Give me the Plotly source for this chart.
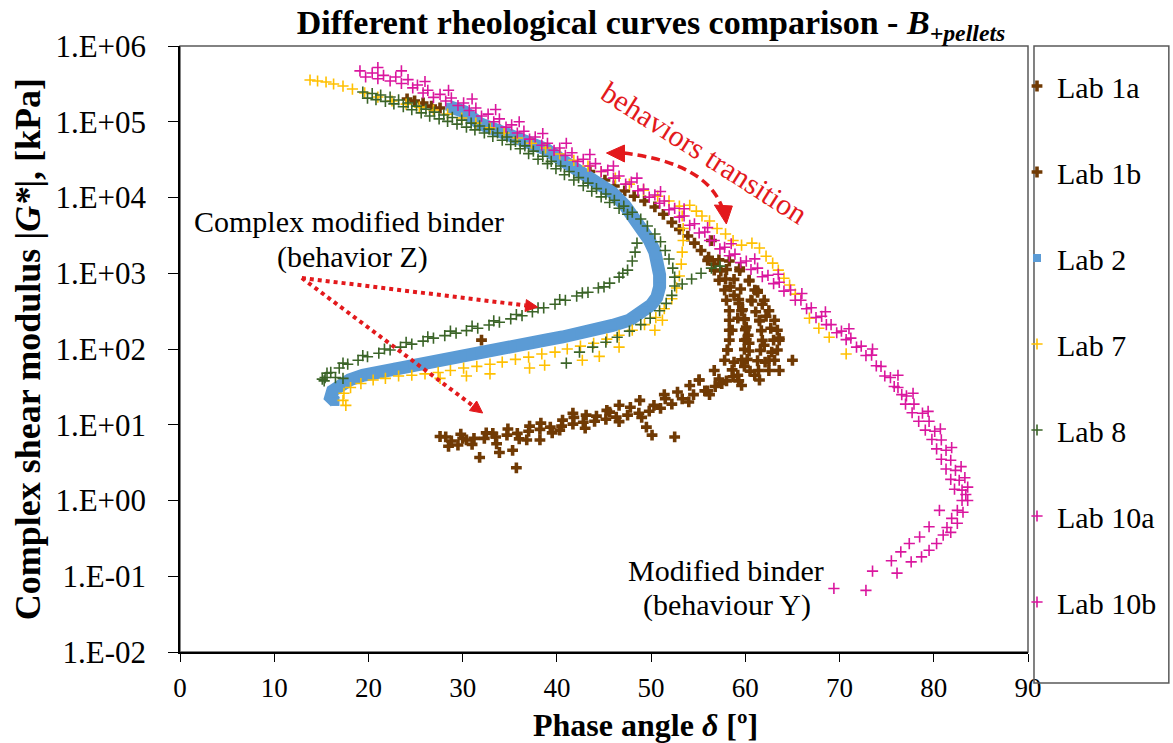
import plotly.graph_objects as go

# ---------------- data (phase angle [deg], |G*| [kPa]) ----------------
lab1a_delta = [24.1, 24.9, 25.8, 26.7, 27.6, 30.7, 33.9, 37.1, 40.3, 43.5, 45.1, 46.1, 47.2, 48.2, 49.3,
               50.4, 51.3, 52.2, 53.0, 53.9, 54.6, 55.3, 56.1, 56.7, 57.4, 57.9, 58.4, 58.8, 59.3, 59.6,
               59.9, 60.1, 60.3, 60.4, 60.4, 60.2, 59.9, 56.4,
               56.0, 57.2, 58.3, 56.7, 58.0, 59.4, 57.2, 58.8, 60.4, 57.8, 59.5, 61.3,
               58.0, 59.3, 60.7, 62.0, 58.3, 59.7, 61.1, 62.5, 58.3, 59.9, 61.5, 63.1]
lab1a_G = [2.0e5, 1.88e5, 1.77e5, 1.61e5, 1.52e5, 1.12e5, 7.8e4, 5.2e4, 3.4e4, 2.2e4, 1.7e4, 1.42e4, 1.22e4,
           1.04e4, 9.0e3, 7.5e3, 6.0e3, 4.7e3, 3.8e3, 3.1e3, 2.5e3, 2.0e3, 1.63e3, 1.32e3, 1.07e3, 8.4e2,
           6.6e2, 5.1e2, 4.0e2, 3.2e2, 2.5e2, 1.95e2, 1.52e2, 1.19e2, 94, 73, 59, 2.7e3,
           1.48e3, 1.5e3, 1.45e3, 1.1e3, 1.12e3, 1.08e3, 8.1e2, 8.3e2, 7.9e2, 6.0e2, 6.2e2, 5.9e2,
           4.4e2, 4.5e2, 4.3e2, 4.4e2, 3.2e2, 3.3e2, 3.1e2, 3.2e2, 2.4e2, 2.45e2, 2.35e2, 2.4e2]

lab1b_delta = [59.4, 60.4, 61.3, 61.8, 62.2, 62.7, 63.0, 62.8, 62.1, 61.4, 63.6, 65.0, 63.6, 58.6, 58.1, 58.8,
               61.0, 61.5, 59.9, 62.0, 59.2, 60.6, 62.5, 61.0, 59.6,
               58.3, 60.0, 61.7, 63.4, 58.3, 60.1, 61.8, 63.6, 58.1, 59.9, 61.6, 63.4,
               57.8, 59.6, 61.3, 63.1, 56.7, 58.6, 60.5, 62.5, 55.1, 57.2, 59.3, 61.5,
               59.2, 58.0, 56.8, 55.7, 54.5, 53.3, 52.2, 51.0, 49.8, 48.7, 47.5, 46.3, 45.2, 44.0, 42.8, 41.7,
               40.5, 39.3, 38.2, 37.0, 35.8, 34.7, 33.5, 32.3, 31.2, 30.0, 28.8, 28.2,
               54.0, 52.8, 51.5, 50.3, 49.0, 47.8, 46.6, 45.3, 44.2, 43.0, 41.8, 40.6, 39.5, 38.3, 37.1, 36.0,
               34.8, 33.6, 32.5, 31.0, 29.8, 28.5, 27.6, 56.0, 57.5, 58.7,
               31.8, 35.7, 35.3, 33.9, 33.2, 38.2, 36.8, 40.3, 41.7, 45.6, 49.5, 50.1, 52.5, 46.6, 48.8, 51.4,
               54.1, 55.1, 56.2, 32.0, 43.1, 30.4, 29.5]
lab1b_G = [1.17e3, 8.1e2, 5.6e2, 3.9e2, 2.7e2, 1.88e2, 1.31e2, 91, 67, 52, 1.39e2, 71, 52, 1.77e2, 97, 67,
           6.0e2, 2.4e2, 1.31e2, 1.12e2, 2.55e2, 4.4e2, 71, 45, 33,
           1.77e2, 1.8e2, 1.75e2, 1.77e2, 1.31e2, 1.33e2, 1.3e2, 1.31e2, 97, 99, 96, 97,
           71, 72, 70, 71, 52, 53, 51, 52, 39, 40, 38, 39,
           45, 38, 32, 28, 25, 22, 18.7, 16.5, 15.1, 14.2, 13.4, 12.6, 11.8, 11.1, 10.8, 10.2,
           9.6, 9.3, 8.7, 8.2, 7.7, 7.3, 6.9, 6.6, 6.6, 6.6, 6.1, 6.9,
           20, 27, 22, 18, 12.5, 17, 11, 15.5, 13, 9.0, 12.5, 11.5, 7.8, 10.5, 9.6, 6.5,
           8.8, 5.6, 7.8, 5.5, 7.5, 5.2, 7.0, 28, 35, 43,
           3.7, 2.7, 4.6, 4.3, 7.7, 6.3, 6.3, 8.5, 14.2, 14.7, 9.3, 7.3, 6.9, 18.1, 21, 25,
           33, 39, 25, 1.31e2, 13.4, 6.3, 5.4]

lab2_delta = [28.6, 30.2, 31.8, 33.6, 35.3, 37.1, 38.9, 40.6, 42.4, 44.2, 45.9, 47.2, 48.4, 49.3, 49.8,
              50.4, 50.7, 50.9, 50.9, 50.6, 50.0, 49.3, 47.7, 45.9, 44.2, 42.4, 40.6, 38.9, 37.1, 35.3,
              33.6, 31.8, 30.0, 28.3, 26.5, 24.7, 23.0, 21.2, 19.4, 18.0, 17.0, 16.2, 16.0, 16.5]
lab2_G = [1.58e5, 1.35e5, 9.5e4, 7.7e4, 6.3e4, 5.2e4, 4.3e4, 3.1e4, 2.3e4, 1.65e4, 1.15e4, 7.9e3, 5.0e3,
          3.7e3, 2.75e3, 1.9e3, 1.36e3, 9.5e2, 6.6e2, 4.8e2, 3.8e2, 3.2e2, 2.4e2, 2.05e2, 1.78e2, 1.58e2,
          1.44e2, 1.32e2, 1.2e2, 1.1e2, 1.0e2, 91, 83, 76, 69, 63, 58, 51, 45, 39, 33, 28, 23, 20]

lab7_delta = [13.8, 14.6, 15.5, 16.3, 17.3, 18.3, 19.6, 21.0, 22.5, 24.0, 25.4, 26.9, 28.4, 29.9, 31.4,
              32.9, 34.4, 35.8, 37.3, 38.8, 40.3, 41.8, 43.3, 44.7, 46.2, 47.7, 49.2, 50.7, 51.9, 53.0,
              53.3, 53.4, 53.4, 53.3, 53.2, 53.0, 52.7, 52.2, 51.4, 50.5, 49.3, 48.0, 46.6, 45.3, 43.9,
              42.5, 41.1, 39.8, 38.4, 37.0, 35.6, 34.2, 32.9, 31.5, 30.1, 28.7, 27.4, 26.0, 24.6, 23.2,
              21.8, 20.5, 19.2, 18.1, 17.4, 17.3, 17.6,
              32.9, 37.1, 42.7, 44.5, 38.7, 27.6, 30.4, 46.6, 50.4, 51.2,
              54.1, 54.8, 55.4, 56.2, 57.0, 57.9, 58.7, 59.6, 60.7, 61.5, 62.2, 62.9, 63.5, 64.1, 64.7,
              65.3, 66.8, 67.8, 68.9, 70.7]
lab7_G = [3.56e5, 3.45e5, 3.35e5, 3.15e5, 2.96e5, 2.7e5, 2.4e5, 2.12e5, 1.88e5, 1.71e5, 1.56e5, 1.43e5,
          1.26e5, 1.12e5, 9.6e4, 8.3e4, 7.1e4, 6.1e4, 5.2e4, 4.5e4, 3.75e4, 3.1e4, 2.6e4, 2.2e4, 1.8e4,
          1.5e4, 1.25e4, 1.04e4, 9.0e3, 7.7e3,
          5.7e3, 3.9e3, 2.7e3, 1.9e3, 1.32e3, 9.2e2, 6.4e2, 4.6e2, 3.4e2, 2.6e2, 2.1e2, 1.77e2, 1.52e2,
          1.35e2, 1.19e2, 1.09e2, 1.0e2, 91, 86, 78, 73, 67, 63, 59, 56, 52, 49, 47, 45, 44,
          41, 39, 35, 31, 26, 21, 18,
          47, 56, 71, 80, 61, 41, 44, 1.06e2, 1.77e2, 2.4e2,
          7.9e3, 6.6e3, 5.7e3, 4.9e3, 3.9e3, 3.3e3, 2.7e3, 2.35e3, 2.5e3, 2.15e3, 1.68e3, 1.36e3, 1.1e3,
          8.6e2, 7.0e2, 5.3e2, 2.55e2, 1.88e2, 1.43e2, 86]

lab8_delta = [19.4, 20.4, 21.3, 22.3, 23.2, 24.2, 25.1, 26.1, 27.0, 28.0, 28.9, 29.9, 30.9, 31.8, 32.8,
              33.7, 34.7, 35.6, 36.6, 37.5, 38.5, 39.4, 40.4, 41.3, 42.3, 43.3, 44.2, 45.2, 46.1, 47.1,
              48.0, 48.9, 49.6, 50.4, 51.0, 51.5, 51.9, 52.3, 52.5, 52.5, 52.2, 51.6, 50.9, 49.9, 48.9,
              47.7, 46.4, 45.2, 43.8,
              19.9, 20.8, 21.8, 22.7, 23.7, 24.6, 25.6, 26.5, 27.5, 28.4, 29.4, 30.4, 31.3, 32.3, 33.2,
              34.2, 35.1, 36.1, 37.0, 38.0, 39.0, 39.9, 40.8, 41.8, 42.8, 43.7, 44.7, 45.6, 46.6, 47.5,
              42.4, 41.0, 17.3,
              53.3, 54.3, 55.3, 56.4, 57.3,
              48.5, 48.3, 48.0, 47.5, 46.6, 45.6, 44.4, 43.3, 42.1, 40.9, 39.8, 38.6, 37.4, 36.3, 35.1,
              33.9, 32.8, 31.6, 30.4, 29.3, 28.1, 26.9, 25.8, 24.6, 23.4, 22.3, 21.1, 19.9, 18.9, 17.8,
              16.9, 16.0, 15.4, 15.3,
              47.0, 45.0, 42.7, 40.3, 38.0, 35.7, 33.3, 31.0, 28.7, 26.3, 24.0, 21.7, 19.4, 17.3, 15.6,
              15.1, 16.5]
lab8_G = [2.47e5, 2.36e5, 2.25e5, 2.12e5, 1.94e5, 1.77e5, 1.61e5, 1.47e5, 1.34e5, 1.23e5, 1.14e5, 1.05e5,
          9.6e4, 8.8e4, 8.0e4, 7.1e4, 6.3e4, 5.5e4, 4.8e4, 4.1e4, 3.5e4, 3.0e4, 2.6e4, 2.2e4, 1.83e4,
          1.55e4, 1.31e4, 1.11e4, 9.2e3, 7.7e3, 6.4e3, 5.2e3, 4.2e3, 3.3e3, 2.6e3, 2.0e3, 1.54e3, 1.17e3,
          8.9e2, 6.8e2, 5.1e2, 4.0e2, 3.2e2, 2.55e2, 2.1e2, 1.72e2, 1.43e2, 1.23e2, 1.06e2,
          2.05e5, 1.96e5, 1.86e5, 1.72e5, 1.58e5, 1.44e5, 1.31e5, 1.19e5, 1.09e5, 1.01e5, 9.3e4, 8.5e4,
          7.8e4, 7.1e4, 6.4e4, 5.7e4, 5.0e4, 4.4e4, 3.8e4, 3.2e4, 2.8e4, 2.4e4, 2.0e4, 1.7e4, 1.43e4,
          1.21e4, 1.02e4, 8.6e3, 7.2e3, 6.0e3,
          91, 65, 41,
          7.2e2, 8.4e2, 1.0e3, 1.17e3, 1.24e3,
          2.5e3, 1.9e3, 1.45e3, 1.1e3, 8.9e2, 7.4e2, 6.4e2, 5.6e2, 5.0e2, 4.4e2, 3.9e2, 3.5e2, 3.1e2,
          2.75e2, 2.5e2, 2.26e2, 2.07e2, 1.88e2, 1.75e2, 1.62e2, 1.5e2, 1.39e2, 1.27e2, 1.16e2, 1.06e2,
          97, 88, 79, 71, 63, 56, 49, 42, 38,
          1.0e3, 6.6e2, 5.5e2, 4.5e2, 3.5e2, 2.85e2, 2.35e2, 2.0e2, 1.72e2, 1.45e2, 1.22e2, 1.0e2, 82,
          65, 48, 40, 42]

lab10a_delta = [19.1, 20.4, 21.6, 22.9, 24.2, 25.2, 26.3, 27.6, 28.8, 30.1, 31.4, 32.7, 33.9, 35.2, 36.5,
                37.7, 39.0, 40.3, 41.6, 42.8, 44.1, 45.4, 46.6, 47.9, 49.2, 50.4, 51.4, 52.5, 53.5, 54.6,
                55.7, 56.7, 57.8, 58.9, 60.1, 61.3, 62.4, 63.6, 64.8, 65.9, 67.0, 68.1, 69.1, 70.2, 71.2,
                72.3, 73.4, 74.4, 75.4, 76.2, 77.1, 77.9, 78.8, 79.5, 80.1, 80.8, 81.3, 81.8, 82.3, 82.7,
                83.0, 83.0, 82.5, 81.9, 81.4, 81.0, 80.3, 79.5, 78.7, 83.4, 83.3,
                21.0, 23.5, 26.0, 28.5, 31.0, 33.5, 36.0, 38.5, 41.0, 43.5, 46.0, 48.5, 51.0, 53.5, 56.0,
                58.5, 61.0, 63.5, 66.0, 68.5, 71.0, 73.5,
                76.2, 77.8, 79.4, 80.7, 81.9, 82.9, 83.6, 83.6, 83.1, 82.5, 81.8]
lab10a_G = [4.7e5, 4.4e5, 4.1e5, 3.9e5, 3.6e5, 3.05e5, 2.6e5, 2.3e5, 2.06e5, 1.77e5, 1.52e5, 1.26e5, 1.09e5,
            9.1e4, 7.5e4, 6.3e4, 5.2e4, 4.5e4, 3.9e4, 3.2e4, 2.8e4, 2.3e4, 1.92e4, 1.6e4, 1.29e4, 1.08e4,
            9.0e3, 7.2e3, 5.7e3, 4.5e3, 3.5e3, 2.7e3, 2.2e3, 1.79e3, 1.45e3, 1.17e3, 9.4e2, 7.6e2, 6.0e2,
            4.4e2, 3.5e2, 2.7e2, 2.1e2, 1.72e2, 1.39e2, 1.09e2, 83, 59, 42, 31, 24, 18.7, 14.2, 11.1, 8.2,
            6.3, 4.6, 3.4, 2.5, 1.85, 1.37, 1.0, 0.74, 0.58, 0.44, 0.35, 0.27, 0.22, 0.18, 1.2, 2.0,
            5.2e5, 4.7e5, 3.4e5, 2.6e5, 2.0e5, 1.45e5, 1.0e5, 7.0e4, 5.2e4, 3.7e4, 2.6e4, 1.8e4, 1.2e4,
            7.1e3, 4.0e3, 2.45e3, 1.55e3, 9.7e2, 5.4e2, 3.1e2, 1.85e2, 1.0e2,
            45, 26, 15, 8.8, 5.0, 2.8, 1.5, 1.0, 0.7, 0.5, 0.38]

lab10b_delta = [19.7, 21.0, 22.3, 23.5, 24.7, 25.8, 26.9, 28.2, 29.5, 30.7, 32.0, 33.3, 34.6, 35.8, 37.1,
                38.4, 39.7, 40.9, 42.2, 43.5, 44.7, 46.0, 47.3, 48.6, 49.8, 50.9, 51.9, 53.0, 54.1, 55.1,
                56.2, 57.3, 58.3, 59.5, 60.6, 61.8, 63.0, 64.1, 65.3, 66.5, 67.5, 68.6, 69.7, 70.7, 71.8,
                72.8, 73.9, 74.8, 75.8, 76.6, 77.0, 77.7, 78.4, 79.1, 79.8, 80.3, 80.8, 81.3, 81.8, 82.2,
                80.6, 79.5, 78.5, 77.4, 76.5, 75.5, 77.6, 76.1, 73.5, 72.8, 69.4]
lab10b_G = [3.9e5, 3.7e5, 3.45e5, 3.2e5, 2.8e5, 2.4e5, 2.1e5, 1.88e5, 1.64e5, 1.41e5, 1.19e5, 1.0e5, 8.5e4,
            7.1e4, 5.9e4, 4.9e4, 4.2e4, 3.6e4, 3.0e4, 2.6e4, 2.2e4, 1.8e4, 1.5e4, 1.23e4, 1.01e4, 8.4e3,
            6.9e3, 5.5e3, 4.3e3, 3.4e3, 2.7e3, 2.1e3, 1.7e3, 1.38e3, 1.12e3, 9.0e2, 7.3e2, 5.8e2, 4.4e2,
            3.4e2, 2.6e2, 2.1e2, 1.64e2, 1.33e2, 1.06e2, 82, 60, 44, 32, 25, 18.7, 14.4, 11.1, 8.5, 6.4,
            4.8, 3.5, 2.6, 1.9, 1.41,
            0.74, 0.45, 0.33, 0.27, 0.21, 0.16, 0.155, 0.11, 0.117, 0.065, 0.069]

x_tickvals = [0, 10, 20, 30, 40, 50, 60, 70, 80, 90]
y_tickvals = [1e-2, 1e-1, 1e0, 1e1, 1e2, 1e3, 1e4, 1e5, 1e6]
y_ticktext = ["1.E-02", "1.E-01", "1.E+00", "1.E+01", "1.E+02", "1.E+03", "1.E+04", "1.E+05", "1.E+06"]

# ---------------- styling ----------------
FONT = "'Liberation Serif', 'Times New Roman', serif"
BROWN = "#703A04"
BLUE = "#5B9BD5"
YELLOW = "#FFC000"
GREEN = "#3B6428"
MAGENTA = "#DA169E"
RED = "#E3191C"

W, H = 1173, 743
L, R, T, B = 180, 1029, 46, 652


def PX(px):
    return (px - L) / (R - L)


def PY(py):
    return (B - py) / (B - T)


fig = go.Figure()


def thin(name, xs, ys, color, size=8, group=None):
    fig.add_trace(go.Scatter(
        x=xs, y=ys, mode="markers", name=name, legendgroup=group or name,
        marker=dict(symbol="cross-thin", size=size, color=color,
                    line=dict(color=color, width=1.6))))


fig.add_trace(go.Scatter(x=lab1a_delta, y=lab1a_G, mode="markers", name="Lab 1a", legendgroup="1a",
                         marker=dict(symbol="cross", size=9, color=BROWN, line=dict(width=0))))
fig.add_trace(go.Scatter(x=lab1b_delta, y=lab1b_G, mode="markers", name="Lab 1b", legendgroup="1b",
                         marker=dict(symbol="cross", size=9, color=BROWN, line=dict(width=0))))
fig.add_trace(go.Scatter(x=lab2_delta, y=lab2_G, mode="lines", showlegend=False,
                         line=dict(color=BLUE, width=13), hoverinfo="skip"))
fig.add_trace(go.Scatter(x=lab2_delta, y=lab2_G, mode="markers", name="Lab 2", legendgroup="2",
                         marker=dict(symbol="square", size=8, color=BLUE, line=dict(width=0))))
thin("Lab 7", lab7_delta, lab7_G, YELLOW, group="7")
thin("Lab 8", lab8_delta, lab8_G, GREEN, group="8")
thin("Lab 10a", lab10a_delta, lab10a_G, MAGENTA, group="10a")
thin("Lab 10b", lab10b_delta, lab10b_G, MAGENTA, group="10b")

shapes = []
shapes.append(dict(type="rect", xref="paper", yref="paper", x0=0, x1=1, y0=0, y1=1,
                   line=dict(color="#595959", width=1.5), layer="below"))
shapes.append(dict(type="rect", xref="paper", yref="paper", x0=PX(1035), x1=PX(1170),
                   y0=PY(683), y1=PY(46), line=dict(color="#595959", width=1.5)))
p0, c, p2 = (624, 153), (707, 163), (723, 208)
shapes.append(dict(type="path", xref="paper", yref="paper",
                   path=f"M {PX(p0[0])},{PY(p0[1])} Q {PX(c[0])},{PY(c[1])} {PX(p2[0])},{PY(p2[1])}",
                   line=dict(color=RED, width=3.5, dash="9px,5px")))
for tri in [[(607, 153), (625, 145), (625, 162)], [(727, 224), (715, 205), (733, 206)]]:
    path = "M " + " L ".join(f"{PX(a)},{PY(b)}" for a, b in tri) + " Z"
    shapes.append(dict(type="path", xref="paper", yref="paper", path=path,
                       fillcolor=RED, line=dict(color=RED, width=1)))
for (x1, y1), tip, c1, c2 in [((526.1, 305.5), (538, 307), (525.4, 311.5), (526.8, 299.6)),
                               ((473.4, 405.8), (483, 413), (469.8, 410.6), (477.0, 401.0))]:
    shapes.append(dict(type="line", xref="paper", yref="paper", x0=PX(302), y0=PY(278),
                       x1=PX(x1), y1=PY(y1), line=dict(color=RED, width=4, dash="dot")))
    path = f"M {PX(tip[0])},{PY(tip[1])} L {PX(c1[0])},{PY(c1[1])} L {PX(c2[0])},{PY(c2[1])} Z"
    shapes.append(dict(type="path", xref="paper", yref="paper", path=path,
                       fillcolor=RED, line=dict(color=RED, width=1)))

annotations = []


def note(text, px, py, size=30, color="black", angle=0):
    annotations.append(dict(text=text, xref="paper", yref="paper", x=PX(px), y=PY(py),
                            xanchor="center", yanchor="middle", showarrow=False, textangle=angle,
                            font=dict(family=FONT, size=size, color=color)))


note("behaviors transition", 705, 152, size=30, color=RED, angle=32.5)
note("Complex modified binder", 349, 222)
note("(behavior Z)", 353, 257)
note("Modified binder", 727, 570)
note("(behaviour Y)", 728, 605)
note("<b>Complex shear modulus |<i>G*</i>|, [kPa]</b>", 28, 349, size=36, angle=-90)
note("<b>Phase angle <i>δ</i> [º]</b>", 646, 725, size=32)

fig.update_layout(
    width=W, height=H,
    margin=dict(l=L, r=W - R, t=T, b=H - B, pad=0),
    paper_bgcolor="white", plot_bgcolor="white",
    font=dict(family=FONT, color="black"),
    title=dict(text="<b>Different rheological curves comparison - <i>B</i><sub><i>+pellets</i></sub></b>",
               x=651 / W, xanchor="center", y=1 - 22 / H, yanchor="middle",
               font=dict(family=FONT, size=34, color="black")),
    xaxis=dict(range=[0, 90], tickvals=x_tickvals, ticks="outside", ticklen=8, tickwidth=1.3,
               tickcolor="black", showline=True, linecolor="black", linewidth=1.5, showgrid=False,
               zeroline=False, tickfont=dict(family=FONT, size=27), ticklabelstandoff=3),
    yaxis=dict(type="log", range=[-2, 6], tickvals=y_tickvals, ticktext=y_ticktext, ticks="outside",
               ticklen=10, tickwidth=1.3, tickcolor="black", showline=True, linecolor="black",
               linewidth=1.5, showgrid=False, zeroline=False, tickfont=dict(family=FONT, size=31),
               ticklabelstandoff=16),
    legend=dict(x=PX(1017), xanchor="left", y=PY(60), yanchor="top", bgcolor="rgba(0,0,0,0)",
                borderwidth=0, font=dict(family=FONT, size=30, color="black"), tracegroupgap=44,
                itemsizing="trace"),
    showlegend=True,
    shapes=shapes,
    annotations=annotations,
)

fig.write_html("out.html")
